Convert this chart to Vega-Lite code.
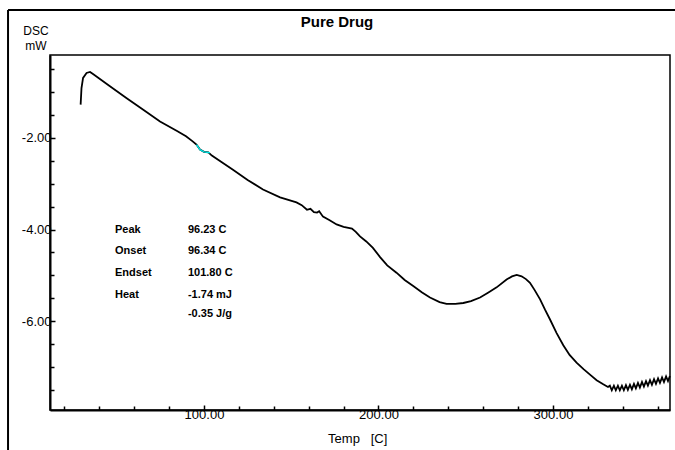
{
  "$schema": "https://vega.github.io/schema/vega-lite/v6.json",
  "width": 620,
  "height": 355,
  "autosize": {"type": "none"},
  "padding": {"left": 50, "top": 55, "right": 5, "bottom": 40},
  "background": "white",
  "config": {
    "view": {"stroke": "black", "strokeWidth": 1.5},
    "font": "Liberation Sans",
    "axis": {
      "title": null,
      "grid": false,
      "labelFont": "Liberation Sans",
      "labelFontSize": 13,
      "labelColor": "black",
      "labelOverlap": false,
      "labelFlush": false,
      "tickColor": "black",
      "tickSize": -4,
      "tickWidth": 1.5,
      "domainColor": "black",
      "domainWidth": 2
    }
  },
  "resolve": {"axis": {"x": "independent", "y": "independent"}},
  "datasets": {
    "curve": [
      {"temp": 29.3, "mw": -1.28}, {"temp": 29.8, "mw": -0.92}, {"temp": 30.7, "mw": -0.70},
      {"temp": 32.7, "mw": -0.59}, {"temp": 34.7, "mw": -0.57}, {"temp": 36.6, "mw": -0.62},
      {"temp": 46.1, "mw": -0.88}, {"temp": 55.7, "mw": -1.14}, {"temp": 65.2, "mw": -1.39},
      {"temp": 74.8, "mw": -1.65}, {"temp": 84.3, "mw": -1.85}, {"temp": 89.7, "mw": -1.97},
      {"temp": 93.5, "mw": -2.08}, {"temp": 95.7, "mw": -2.15}, {"temp": 97.7, "mw": -2.26},
      {"temp": 100.0, "mw": -2.31}, {"temp": 102.5, "mw": -2.32}, {"temp": 104.5, "mw": -2.39},
      {"temp": 110.0, "mw": -2.53}, {"temp": 116.6, "mw": -2.70}, {"temp": 125.0, "mw": -2.92},
      {"temp": 133.8, "mw": -3.13}, {"temp": 143.6, "mw": -3.30}, {"temp": 153.0, "mw": -3.41},
      {"temp": 156.0, "mw": -3.47}, {"temp": 159.0, "mw": -3.57}, {"temp": 161.0, "mw": -3.55},
      {"temp": 163.0, "mw": -3.62}, {"temp": 164.8, "mw": -3.63}, {"temp": 166.0, "mw": -3.60},
      {"temp": 168.2, "mw": -3.72}, {"temp": 172.0, "mw": -3.80}, {"temp": 176.0, "mw": -3.89},
      {"temp": 180.0, "mw": -3.94}, {"temp": 184.8, "mw": -3.98}, {"temp": 187.0, "mw": -4.05},
      {"temp": 189.4, "mw": -4.15}, {"temp": 193.0, "mw": -4.26}, {"temp": 196.8, "mw": -4.40},
      {"temp": 200.9, "mw": -4.60}, {"temp": 205.0, "mw": -4.78}, {"temp": 210.3, "mw": -4.94},
      {"temp": 215.0, "mw": -5.10}, {"temp": 219.9, "mw": -5.23}, {"temp": 225.0, "mw": -5.37},
      {"temp": 229.5, "mw": -5.48}, {"temp": 235.0, "mw": -5.58}, {"temp": 239.0, "mw": -5.62},
      {"temp": 244.0, "mw": -5.62}, {"temp": 248.6, "mw": -5.60}, {"temp": 253.0, "mw": -5.56},
      {"temp": 258.2, "mw": -5.48}, {"temp": 263.0, "mw": -5.37}, {"temp": 267.7, "mw": -5.26},
      {"temp": 273.4, "mw": -5.09}, {"temp": 276.5, "mw": -5.02}, {"temp": 279.2, "mw": -4.99},
      {"temp": 282.0, "mw": -5.02}, {"temp": 284.5, "mw": -5.08}, {"temp": 286.8, "mw": -5.16},
      {"temp": 289.5, "mw": -5.32}, {"temp": 292.6, "mw": -5.52}, {"temp": 295.5, "mw": -5.75},
      {"temp": 298.3, "mw": -5.96}, {"temp": 302.0, "mw": -6.25}, {"temp": 305.9, "mw": -6.52},
      {"temp": 309.5, "mw": -6.73}, {"temp": 313.5, "mw": -6.90}, {"temp": 317.5, "mw": -7.04},
      {"temp": 321.2, "mw": -7.16}, {"temp": 325.0, "mw": -7.28}, {"temp": 328.8, "mw": -7.37},
      {"temp": 331.5, "mw": -7.43},
      {"temp": 332.6, "mw": -7.40}, {"temp": 333.7, "mw": -7.50}, {"temp": 334.9, "mw": -7.40},
      {"temp": 336.0, "mw": -7.50}, {"temp": 337.2, "mw": -7.40}, {"temp": 338.3, "mw": -7.50},
      {"temp": 339.5, "mw": -7.40}, {"temp": 340.6, "mw": -7.50}, {"temp": 341.8, "mw": -7.39},
      {"temp": 342.9, "mw": -7.49}, {"temp": 344.1, "mw": -7.38}, {"temp": 345.2, "mw": -7.48},
      {"temp": 346.4, "mw": -7.36}, {"temp": 347.5, "mw": -7.46}, {"temp": 348.7, "mw": -7.34},
      {"temp": 349.8, "mw": -7.44}, {"temp": 351.0, "mw": -7.32}, {"temp": 352.1, "mw": -7.42},
      {"temp": 353.3, "mw": -7.30}, {"temp": 354.4, "mw": -7.40}, {"temp": 355.6, "mw": -7.28},
      {"temp": 356.7, "mw": -7.38}, {"temp": 357.9, "mw": -7.26}, {"temp": 359.0, "mw": -7.36},
      {"temp": 360.2, "mw": -7.24}, {"temp": 361.3, "mw": -7.34}, {"temp": 362.5, "mw": -7.22},
      {"temp": 363.6, "mw": -7.32}, {"temp": 364.8, "mw": -7.20}, {"temp": 365.9, "mw": -7.30},
      {"temp": 367.0, "mw": -7.19}
    ],
    "cyan": [
      {"temp": 95.7, "mw": -2.15}, {"temp": 97.7, "mw": -2.26}, {"temp": 100.0, "mw": -2.31}, {"temp": 103.4, "mw": -2.33}
    ],
    "notes": [
      {"temp": 49.0, "mw": -4.01, "text": "Peak"},
      {"temp": 49.0, "mw": -4.46, "text": "Onset"},
      {"temp": 49.0, "mw": -4.94, "text": "Endset"},
      {"temp": 49.0, "mw": -5.43, "text": "Heat"},
      {"temp": 90.8, "mw": -4.01, "text": "96.23 C"},
      {"temp": 90.8, "mw": -4.46, "text": "96.34 C"},
      {"temp": 90.8, "mw": -4.94, "text": "101.80 C"},
      {"temp": 90.8, "mw": -5.43, "text": "-1.74 mJ"},
      {"temp": 90.8, "mw": -5.83, "text": "-0.35 J/g"}
    ],
    "title": [{"temp": 176.2, "mw": 0.41, "text": "Pure Drug"}],
    "ylab": [
      {"temp": 3.7, "mw": 0.236, "text": "DSC"},
      {"temp": 3.7, "mw": -0.09, "text": "mW"}
    ],
    "xlab": [{"temp": 171.1, "mw": -8.65, "text": "Temp\u00a0\u00a0\u00a0[C]"}],
    "frame": [
      {"temp": -12.3, "mw": 0.78, "temp2": -12.3, "mw2": -9.5},
      {"temp": -12.3, "mw": 0.78, "temp2": 375, "mw2": 0.78}
    ]
  },
  "layer": [
    {
      "data": {"name": "curve"},
      "mark": {"type": "line", "color": "black", "strokeWidth": 1.8},
      "encoding": {
        "x": {
          "field": "temp", "type": "quantitative",
          "scale": {"domain": [11.75, 367.05], "nice": false, "zero": false},
          "axis": {
            "orient": "bottom",
            "values": [100, 200, 300],
            "labelExpr": "replace(format(datum.value, '.2f'), '\u2212', '-')",
            "tickSize": -5,
            "labelPadding": 3
          }
        },
        "y": {
          "field": "mw", "type": "quantitative",
          "scale": {"domain": [-7.93, -0.2], "nice": false, "zero": false},
          "axis": {
            "orient": "left",
            "values": [-6, -4, -2],
            "labelExpr": "replace(format(datum.value, '.2f'), '\u2212', '-')",
            "tickSize": -5,
            "labelPadding": 4
          }
        }
      }
    },
    {
      "data": {"name": "cyan"},
      "mark": {"type": "line", "color": "#00e5e5", "strokeWidth": 1.5},
      "encoding": {
        "x": {
          "field": "temp", "type": "quantitative",
          "axis": {
            "orient": "bottom",
            "values": [20, 40, 60, 80, 120, 140, 160, 180, 220, 240, 260, 280, 320, 340, 360],
            "labels": false,
            "domain": false,
            "tickSize": -4
          }
        },
        "y": {
          "field": "mw", "type": "quantitative",
          "axis": {
            "orient": "left",
            "values": [-7.5, -7, -6.5, -5.5, -5, -4.5, -3.5, -3, -2.5, -1.5, -1, -0.5],
            "labels": false,
            "domain": false,
            "tickSize": -4
          }
        }
      }
    },
    {
      "data": {"name": "notes"},
      "mark": {"type": "text", "align": "left", "baseline": "middle", "fontWeight": "bold", "fontSize": 11, "color": "black"},
      "encoding": {
        "x": {"field": "temp", "type": "quantitative", "axis": null},
        "y": {"field": "mw", "type": "quantitative", "axis": null},
        "text": {"field": "text"}
      }
    },
    {
      "data": {"name": "title"},
      "mark": {"type": "text", "align": "center", "baseline": "alphabetic", "fontWeight": "bold", "fontSize": 15, "color": "black"},
      "encoding": {
        "x": {"field": "temp", "type": "quantitative", "axis": null},
        "y": {"field": "mw", "type": "quantitative", "axis": null},
        "text": {"field": "text"}
      }
    },
    {
      "data": {"name": "ylab"},
      "mark": {"type": "text", "align": "center", "baseline": "alphabetic", "fontSize": 12, "color": "black"},
      "encoding": {
        "x": {"field": "temp", "type": "quantitative", "axis": null},
        "y": {"field": "mw", "type": "quantitative", "axis": null},
        "text": {"field": "text"}
      }
    },
    {
      "data": {"name": "xlab"},
      "mark": {"type": "text", "align": "left", "baseline": "alphabetic", "fontSize": 13, "color": "black"},
      "encoding": {
        "x": {"field": "temp", "type": "quantitative", "axis": null},
        "y": {"field": "mw", "type": "quantitative", "axis": null},
        "text": {"field": "text"}
      }
    },
    {
      "data": {"name": "frame"},
      "mark": {"type": "rule", "color": "black", "strokeWidth": 2},
      "encoding": {
        "x": {"field": "temp", "type": "quantitative", "axis": null},
        "y": {"field": "mw", "type": "quantitative", "axis": null},
        "x2": {"field": "temp2"},
        "y2": {"field": "mw2"}
      }
    }
  ]
}
